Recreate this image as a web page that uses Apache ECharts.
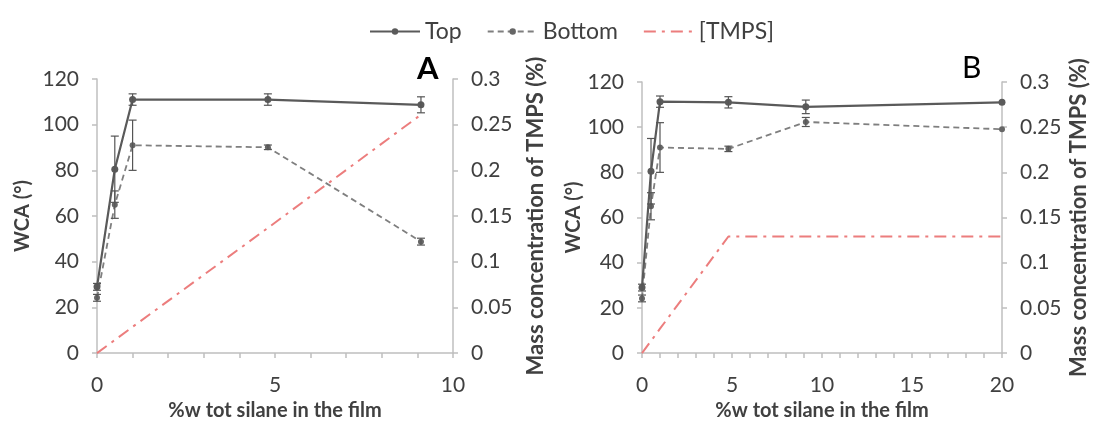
<!DOCTYPE html>
<html><head><meta charset="utf-8">
<script src="https://cdn.jsdelivr.net/npm/echarts@6/dist/echarts.min.js"></script>
<style>html,body{margin:0;padding:0;background:#fff}#c{width:1095px;height:426px}</style>
</head><body><div id="c"></div>
<script>
// Panel A data
const xA = [0, 0.5, 1, 4.8, 9.1];
const topA = [29, 80.5, 111, 111, 108.7];
const topAErr = [1.5, 14.5, 2.5, 2.5, 3.5];
const botA = [24.2, 65, 91, 90.1, 48.8];
const botAErr = [1.5, 6, 11, 1, 1.5];
const tmpsA = [0, 0.0143, 0.0287, 0.137, 0.261];
// Panel B data
const xB = [0, 0.5, 1, 4.8, 9.1, 20];
const topB = [29, 80.5, 111.3, 111, 109, 111];
const topBErr = [1.5, 14.5, 2.5, 2.5, 3, 0];
const botB = [24.2, 65, 91, 90.4, 102.3, 99.1];
const botBErr = [1.5, 6, 11, 1.2, 2, 0];
const tmpsB = [0, 0.0134, 0.027, 0.129, 0.129, 0.129];
const seriesNames = ['Top', 'Bottom', '[TMPS]'];
const xName = '%w tot silane in the film';
const yLeftName = 'WCA (°)';
const yRightName = 'Mass concentration of TMPS (%)';

const FONT = 'Lato';
const TXT = '#404040';
const AX = '#bfbfbf';
const TOPC = '#5a5a5a';
const BOTC = '#7f7f7f';
const REDC = '#ec7d7d';

const pairs = (xs, ys) => xs.map((x, i) => [x, ys[i]]);
const triples = (xs, ys, es) => xs.map((x, i) => [x, ys[i], es[i]]);

function errRender(params, api) {
  const x = api.value(0), y = api.value(1), e = api.value(2);
  if (!e) return null;
  const p1 = api.coord([x, y + e]), p2 = api.coord([x, y - e]);
  const w = 4;
  const st = { stroke: '#555', lineWidth: 1.2 };
  return { type: 'group', children: [
    { type: 'line', shape: { x1: p1[0], y1: p1[1], x2: p2[0], y2: p2[1] }, style: st },
    { type: 'line', shape: { x1: p1[0] - w, y1: p1[1], x2: p1[0] + w, y2: p1[1] }, style: st },
    { type: 'line', shape: { x1: p2[0] - w, y1: p2[1], x2: p2[0] + w, y2: p2[1] }, style: st }
  ]};
}

function xAxisCfg(gridIndex, max) {
  return {
    type: 'value', gridIndex, min: 0, max, interval: 1,
    name: xName, nameLocation: 'middle', nameGap: 44,
    nameTextStyle: { fontFamily: FONT, fontSize: 20, fontWeight: 'bold', color: TXT },
    axisLine: { lineStyle: { color: AX, width: 1.5 } },
    axisTick: { show: true, inside: false, length: 5, lineStyle: { color: AX, width: 1.5 } },
    axisLabel: { fontFamily: FONT, fontSize: 21, color: TXT, margin: 22, showMinLabel: true, showMaxLabel: true,
      formatter: v => (v % 5 === 0 ? String(v) : '') },
    splitLine: { show: false }
  };
}
function yLeftCfg(gridIndex, gap) {
  return {
    type: 'value', gridIndex, min: 0, max: 120, interval: 20, position: 'left',
    name: yLeftName, nameLocation: 'middle', nameGap: gap,
    nameTextStyle: { fontFamily: FONT, fontSize: 20, fontWeight: 'bold', color: TXT },
    axisLine: { show: true, lineStyle: { color: AX, width: 1.5 } },
    axisTick: { show: true, length: 5, lineStyle: { color: AX, width: 1.5 } },
    axisLabel: { fontFamily: FONT, fontSize: 21, color: TXT, margin: 18 },
    splitLine: { show: false }
  };
}
function yRightCfg(gridIndex, gap) {
  return {
    type: 'value', gridIndex, min: 0, max: 0.3, interval: 0.05, position: 'right',
    name: yRightName, nameLocation: 'middle', nameGap: gap, nameRotate: 90,
    nameTextStyle: { fontFamily: FONT, fontSize: 22, fontWeight: 'bold', color: TXT },
    axisLine: { show: true, lineStyle: { color: AX, width: 1.5 } },
    axisTick: { show: true, length: 5, lineStyle: { color: AX, width: 1.5 } },
    axisLabel: { fontFamily: FONT, fontSize: 21, color: TXT, margin: 18 },
    splitLine: { show: false }
  };
}

function panelSeries(xi, yl, yr, xs, top, topE, bot, botE, tmps) {
  return [
    { name: seriesNames[0], type: 'line', xAxisIndex: xi, yAxisIndex: yl, data: pairs(xs, top),
      symbol: 'circle', symbolSize: 7, itemStyle: { color: TOPC }, lineStyle: { color: TOPC, width: 2.2 }, z: 4 },
    { name: seriesNames[1], type: 'line', xAxisIndex: xi, yAxisIndex: yl, data: pairs(xs, bot),
      symbol: 'circle', symbolSize: 6, itemStyle: { color: '#666' }, lineStyle: { color: BOTC, width: 1.8, type: [6, 4] }, z: 3 },
    { name: seriesNames[2], type: 'line', xAxisIndex: xi, yAxisIndex: yr, data: pairs(xs, tmps),
      symbol: 'none', showSymbol: false, itemStyle: { color: REDC }, lineStyle: { color: REDC, width: 2, type: [12, 6, 3, 6] }, z: 2 },
    { type: 'custom', xAxisIndex: xi, yAxisIndex: yl, data: triples(xs, top, topE), renderItem: errRender, z: 5, silent: true },
    { type: 'custom', xAxisIndex: xi, yAxisIndex: yl, data: triples(xs, bot, botE), renderItem: errRender, z: 5, silent: true }
  ];
}

const chart = echarts.init(document.getElementById('c'), null, { renderer: 'canvas' });
chart.setOption({
  animation: false,
  backgroundColor: '#fff',
  legend: {
    data: [
      { name: seriesNames[0] },
      { name: seriesNames[1] },
      { name: seriesNames[2], itemStyle: { opacity: 0 } }
    ],
    top: 15, left: 364, itemWidth: 50, itemHeight: 8, itemGap: 25,
    textStyle: { fontFamily: FONT, fontSize: 23, color: TXT }
  },
  grid: [
    { left: 97, right: 642, top: 79, bottom: 71 },
    { left: 642, right: 93, top: 82, bottom: 69 }
  ],
  xAxis: [xAxisCfg(0, 10), xAxisCfg(1, 20)],
  yAxis: [yLeftCfg(0, 64), yRightCfg(0, 72), yLeftCfg(1, 54), yRightCfg(1, 66)],
  series: [
    ...panelSeries(0, 0, 1, xA, topA, topAErr, botA, botAErr, tmpsA),
    ...panelSeries(1, 2, 3, xB, topB, topBErr, botB, botBErr, tmpsB)
  ],
  graphic: [
    { type: 'text', left: 417, top: 53, style: { text: 'A', fontFamily: FONT, fontSize: 31, fontWeight: 'bold', fill: '#000' } },
    { type: 'text', left: 962, top: 53, style: { text: 'B', fontFamily: FONT, fontSize: 30, fill: '#000' } }
  ]
});
</script>
</body></html>
